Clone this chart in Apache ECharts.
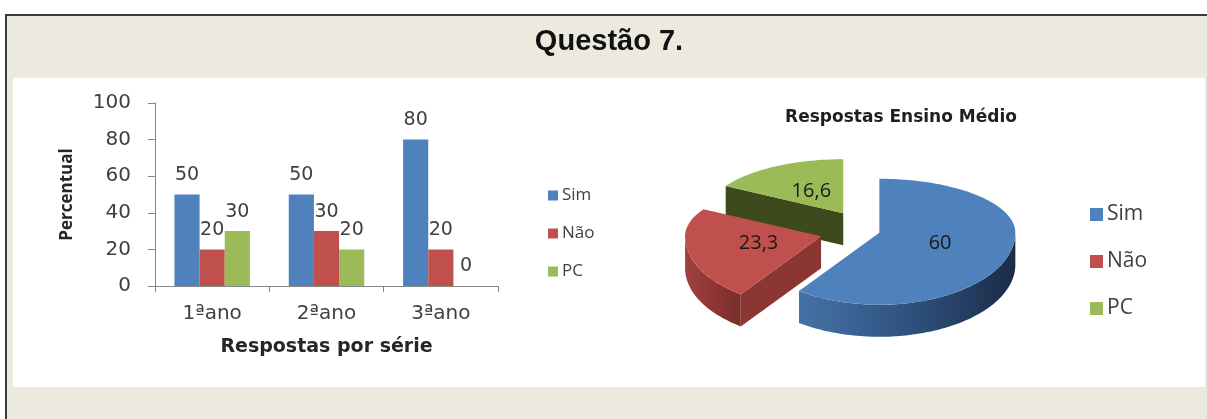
<!DOCTYPE html>
<html>
<head>
<meta charset="utf-8">
<script src="https://cdn.jsdelivr.net/npm/echarts@6/dist/echarts.min.js"></script>
<style>
  html, body { margin: 0; padding: 0; background: #ffffff; overflow: hidden; }
  #frame { position: absolute; left: 5px; top: 14px; width: 1215px; height: 405px; background: #ECEADF;
           border-top: 2px solid #3a3a3a; border-left: 2px solid #3a3a3a; box-sizing: border-box; }
  #panel { position: absolute; left: 13px; top: 78px; width: 1192px; height: 309px; background: #ffffff; }
  #chart { position: absolute; left: 0; top: 0; width: 1207px; height: 419px; }
</style>
</head>
<body>
<div id="frame"></div>
<div id="panel"></div>
<div id="chart"></div>
<script>
// ---- data ----
const categories = ['1ªano', '2ªano', '3ªano'];
const simValues = [50, 50, 80];
const naoValues = [20, 30, 20];
const pcValues = [30, 20, 0];
const seriesNames = ['Sim', 'Não', 'PC'];
const pieNames = ['Sim', 'Não', 'PC'];
const pieValues = [60, 23.3, 16.6];

// ---- style ----
const colors = ['#4F81BD', '#C0504D', '#9BBB59'];
const explode = [0.08, 0.36, 0.38];
const bBack = 54, bFront = 72, depthPx = 32;
const kFront = bFront / bBack;
const depthU = depthPx / bBack;
const wallFills = [
  ['#4671A6', '#2F5280', '#1B2C46'],
  ['#A2413F', '#8E3634', '#7A2D2B'],
  ['#55692A', '#4A5C24', '#3E4D1E']
];
const faceFills = ['#2E4C74', '#8C3634', '#3C4A1E'];

const chart = echarts.init(document.getElementById('chart'), null, { renderer: 'canvas' });

const pieTotal = pieValues.reduce((s, v) => s + v, 0);

function yScale(c) { return c < 0 ? c * kFront : c; }

function renderSlice(params, api) {
  const i = params.dataIndex;
  const val = api.value(0);
  let start = 0;
  for (let k = 0; k < i; k++) start += pieValues[k];
  const a0 = start / pieTotal * Math.PI * 2;
  const a1 = (start + val) / pieTotal * Math.PI * 2;
  const mid = (a0 + a1) / 2;
  const ex = explode[i] * Math.sin(mid);
  const ey = yScale(explode[i] * Math.cos(mid));
  const P = (ang, r, dz) => api.coord([ex + r * Math.sin(ang), ey + r * yScale(Math.cos(ang)) - (dz || 0)]);
  const arc = (s, e, dz) => {
    const pts = [];
    const n = Math.max(2, Math.ceil((e - s) / (Math.PI / 120)));
    for (let j = 0; j <= n; j++) pts.push(P(s + (e - s) * j / n, 1, dz));
    return pts;
  };
  const base = (1 - Math.cos(mid)) * 100;
  const children = [];
  if (Math.cos(a0 - Math.PI / 2) < -0.01) {
    children.push({ type: 'polygon', z2: base + 1,
      shape: { points: [P(a0, 0), P(a0, 1), P(a0, 1, depthU), P(a0, 0, depthU)] },
      style: { fill: faceFills[i] } });
  }
  if (Math.cos(a1 + Math.PI / 2) < -0.01) {
    children.push({ type: 'polygon', z2: base + 1,
      shape: { points: [P(a1, 0), P(a1, 1), P(a1, 1, depthU), P(a1, 0, depthU)] },
      style: { fill: faceFills[i] } });
  }
  const w0 = Math.max(a0, Math.PI / 2), w1 = Math.min(a1, Math.PI * 1.5);
  if (w1 > w0) {
    const top = arc(w0, w1, 0);
    const bot = arc(w0, w1, depthU).reverse();
    children.push({ type: 'polygon', z2: base + 2,
      shape: { points: top.concat(bot) },
      style: { fill: new echarts.graphic.LinearGradient(0, 0, 1, 0, [
        { offset: 0, color: wallFills[i][0] },
        { offset: 0.5, color: wallFills[i][1] },
        { offset: 1, color: wallFills[i][2] }]) } });
  }
  children.push({ type: 'polygon', z2: base + 3,
    shape: { points: [P(a0, 0)].concat(arc(a0, a1, 0)) },
    style: { fill: colors[i] } });
  const lp = P(mid, 0.47);
  children.push({ type: 'text', z2: 1000, x: lp[0], y: lp[1],
    style: { text: String(val).replace('.', ','), fill: '#1a1a1a',
      font: '20px "Open Sans"', align: 'center', verticalAlign: 'middle' } });
  return { type: 'group', children };
}

const barLabel = {
  show: true, position: 'top', distance: 10, color: '#404040',
  fontFamily: 'DejaVu Sans', fontSize: 19
};

const option = {
  animation: false,
  backgroundColor: 'transparent',
  color: colors,
  title: [
    { text: 'Questão 7.', left: 604, top: 22, textAlign: 'center',
      textStyle: { fontFamily: 'Liberation Sans', fontWeight: 'bold', fontSize: 29, color: '#111111' } },
    { text: 'Respostas Ensino Médio', left: 896, top: 104, textAlign: 'center',
      textStyle: { fontFamily: 'DejaVu Sans', fontWeight: 'bold', fontSize: 17, color: '#1f1f1f' } }
  ],
  legend: [
    { data: seriesNames, orient: 'vertical', left: 543, top: 182, itemWidth: 10, itemHeight: 10,
      itemGap: 21, icon: 'rect', selectedMode: false,
      textStyle: { fontFamily: 'Open Sans', fontSize: 17, color: '#404040', padding: [0, 0, 0, -1] } },
    { data: pieNames, orient: 'vertical', left: 1085, top: 199, itemWidth: 13, itemHeight: 13,
      itemGap: 26, icon: 'rect', selectedMode: false,
      textStyle: { fontFamily: 'Open Sans', fontSize: 21, color: '#404040', padding: [0, 0, 0, -1] } }
  ],
  grid: [
    { left: 155, top: 103, width: 343, height: 183 },
    { left: 733, top: 177, width: 272, height: 108 }
  ],
  xAxis: [
    { type: 'category', gridIndex: 0, data: categories,
      name: 'Respostas por série', nameLocation: 'middle', nameGap: 52,
      nameTextStyle: { fontFamily: 'DejaVu Sans', fontWeight: 'bold', fontSize: 19, color: '#262626' },
      axisLine: { lineStyle: { color: '#868686', width: 1 } },
      axisTick: { show: true, length: 6, lineStyle: { color: '#868686' } },
      axisLabel: { margin: 18, color: '#404040', fontFamily: 'DejaVu Sans', fontSize: 20 } },
    { type: 'value', gridIndex: 1, min: -1, max: 1, show: false }
  ],
  yAxis: [
    { type: 'value', gridIndex: 0, min: 0, max: 100, interval: 20,
      name: 'Percentual', nameLocation: 'middle', nameRotate: 90, nameGap: 79,
      nameTextStyle: { fontFamily: 'Open Sans', fontWeight: 'bold', fontSize: 17, color: '#262626' },
      axisLine: { show: true, lineStyle: { color: '#868686', width: 1 } },
      axisTick: { show: true, length: 7, lineStyle: { color: '#868686' } },
      splitLine: { show: false },
      axisLabel: { margin: 24, color: '#404040', fontFamily: 'DejaVu Sans', fontSize: 20 } },
    { type: 'value', gridIndex: 1, min: -1, max: 1, show: false }
  ],
  series: [
    { name: 'Sim', type: 'bar', xAxisIndex: 0, yAxisIndex: 0, data: simValues,
      barGap: '0%', barCategoryGap: '34%', itemStyle: { color: colors[0] }, label: barLabel },
    { name: 'Não', type: 'bar', xAxisIndex: 0, yAxisIndex: 0, data: naoValues,
      barGap: '0%', barCategoryGap: '34%', itemStyle: { color: colors[1] }, label: barLabel },
    { name: 'PC', type: 'bar', xAxisIndex: 0, yAxisIndex: 0, data: pcValues,
      barGap: '0%', barCategoryGap: '34%', itemStyle: { color: colors[2] }, label: barLabel },
    { name: 'Respostas Ensino Médio', type: 'custom', xAxisIndex: 1, yAxisIndex: 1,
      renderItem: renderSlice, clip: false,
      data: pieValues.map((v, i) => ({ name: pieNames[i], value: [v] })) }
  ]
};
chart.setOption(option);
</script>
</body>
</html>
